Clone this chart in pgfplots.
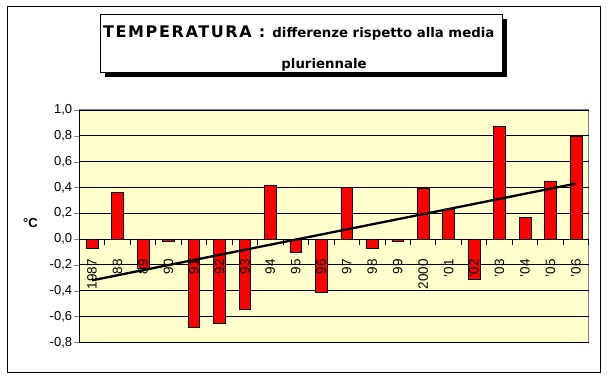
\documentclass[border=0pt]{standalone}
\usepackage{pgfplots}
\pgfplotsset{compat=1.18}
\usepackage{fontspec}
\setmainfont{Liberation Sans}
\newfontfamily\titlefont{DejaVu Sans}
\definecolor{bgy}{HTML}{FFFFCC}
\definecolor{barred}{HTML}{FF0000}
\pgfplotsset{
  common/.style={
    scale only axis, width=509.4pt, height=232.3pt,
    at={(79.3pt,37.7pt)}, anchor=south west,
    xmin=-0.5, xmax=19.5, ymin=-0.8, ymax=1.0,
    axis x line=middle, axis y line=left,
    xtick={0,...,19},
    xticklabels={1987,88,89,90,91,92,93,94,95,96,97,98,99,2000,'01,'02,'03,'04,'05,'06},
    xticklabel style={font=\fontsize{13.5}{15}\selectfont, rotate=90, anchor=east, inner xsep=18pt, inner ysep=0pt},
    clip=false,
  }
}
\begin{document}
\begin{tikzpicture}[x=1pt,y=1pt]
\useasboundingbox (0,0) rectangle (607,380);
\draw[black, line width=1pt] (7,8) rectangle (600,373);
\fill[black] (104.5,303.3) rectangle (506.7,361.2);
\draw[black, fill=white, line width=1pt] (100,307.3) rectangle (502.7,365.7);
\node[anchor=base west, inner sep=0pt] at (103,342.5) {\titlefont\bfseries\fontsize{16}{18}\selectfont\addfontfeature{LetterSpace=10}TEMPERATURA :\ \fontsize{13.3}{15}\selectfont\addfontfeature{LetterSpace=0}differenze rispetto alla media};
\node[anchor=base, inner sep=0pt] at (324,311) {\titlefont\bfseries\fontsize{13.3}{15}\selectfont pluriennale};
\node[anchor=center, inner sep=0pt] at (30.5,157) {\bfseries\fontsize{13}{15}\selectfont °C};
\begin{axis}[
  common,
  axis line style={-, black, line width=0.8pt},
  axis background/.style={fill=bgy, draw=gray, line width=1pt},
  ytick={-0.8,-0.6,-0.4,-0.2,0,0.2,0.4,0.6,0.8,1.0},
  ymajorgrids, major grid style={black, line width=0.8pt},
  ytick align=outside, major tick length=5pt,
  /pgf/number format/fixed, /pgf/number format/fixed zerofill,
  /pgf/number format/precision=1, /pgf/number format/use comma,
  /pgf/number format/assume math mode=true,
  yticklabel style={font=\fontsize{13}{15}\selectfont, anchor=east, inner sep=2pt},
  major x tick style={draw=none},
  minor xtick={-0.5,0.5,...,19.5},
  minor x tick style={black, line width=0.8pt},
  minor tick length=6pt,
  xtick align=outside,
  xticklabels={},
]
\addplot[ybar, bar width=11.7pt, fill=barred, draw=black, line width=0.6pt] coordinates {
(0,-0.07) (1,0.36) (2,-0.23) (3,-0.015) (4,-0.685) (5,-0.655) (6,-0.545) (7,0.42) (8,-0.10) (9,-0.41)
(10,0.40) (11,-0.075) (12,-0.02) (13,0.39) (14,0.23) (15,-0.31) (16,0.87) (17,0.168) (18,0.45) (19,0.80)};
\addplot[black, line width=2.3pt, sharp plot, mark=none] coordinates {(0,-0.32) (19,0.43)};
\draw[gray, line width=1pt] (axis cs:-0.5,1.0) -- (axis cs:19.5,1.0);
\end{axis}
\begin{axis}[
  common,
  axis line style={draw=none},
  ytick=\empty,
  major x tick style={draw=none},
]
\addplot[draw=none, mark=none] coordinates {(0,0) (19,0)};
\end{axis}
\end{tikzpicture}
\end{document}
